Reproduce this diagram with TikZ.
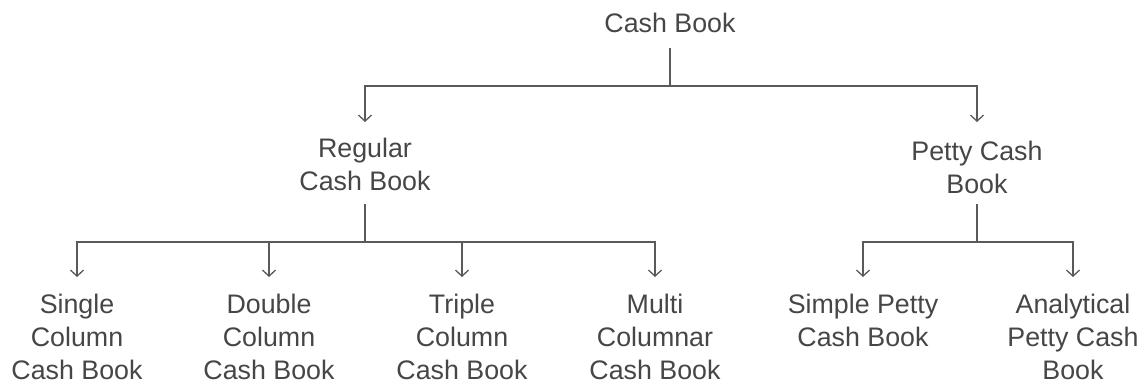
\documentclass[tikz,border=0pt]{standalone}
\usepackage{fontspec}
\setmainfont{Liberation Sans}
\usetikzlibrary{arrows.meta}
\definecolor{textgray}{HTML}{464646}
\definecolor{linegray}{HTML}{5A5A5A}
\begin{document}
\begin{tikzpicture}[x=1pt,y=-1pt,
  lbl/.style={inner sep=0pt, anchor=north, align=center, text=textgray,
    font=\fontsize{26.8}{33}\selectfont},
  link/.style={draw=linegray, line width=1.3pt},
  arr/.style={link, -{Straight Barb[length=6pt,width=13pt]}}]
\useasboundingbox (0,0) rectangle (1140,381);

% tree nodes
\node[lbl] (root)   at (670,13)  {Cash Book};
\node[lbl] (reg)    at (365,138) {Regular\\Cash Book};
\node[lbl] (pet)    at (977,141) {Petty Cash\\Book};
\node[lbl] (single) at (77,294)  {Single\\Column\\Cash Book};
\node[lbl] (double) at (269,294) {Double\\Column\\Cash Book};
\node[lbl] (triple) at (462,294) {Triple\\Column\\Cash Book};
\node[lbl] (multi)  at (655,294) {Multi\\Columnar\\Cash Book};
\node[lbl] (simple) at (863,294) {Simple Petty\\Cash Book};
\node[lbl] (analyt) at (1073,294) {Analytical\\Petty Cash\\Book};

% stems and junctions
\coordinate (rootstem) at (670,48);
\coordinate (rootjn)   at (670,86);
\coordinate (regstem)  at (365,204);
\coordinate (regjn)    at (365,242);
\coordinate (petstem)  at (977,204);
\coordinate (petjn)    at (977,242);

\draw[link] (rootstem) -- (rootjn);
\draw[arr, shorten >=16pt] (rootjn) -| (reg.north);
\draw[arr, shorten >=19pt] (rootjn) -| (pet.north);

\draw[link] (regstem) -- (regjn);
\draw[arr, shorten >=17pt] (regjn) -| (single.north);
\draw[arr, shorten >=17pt] (regjn) -| (double.north);
\draw[arr, shorten >=17pt] (regjn) -| (triple.north);
\draw[arr, shorten >=17pt] (regjn) -| (multi.north);

\draw[link] (petstem) -- (petjn);
\draw[arr, shorten >=17pt] (petjn) -| (simple.north);
\draw[arr, shorten >=17pt] (petjn) -| (analyt.north);
\end{tikzpicture}
\end{document}
